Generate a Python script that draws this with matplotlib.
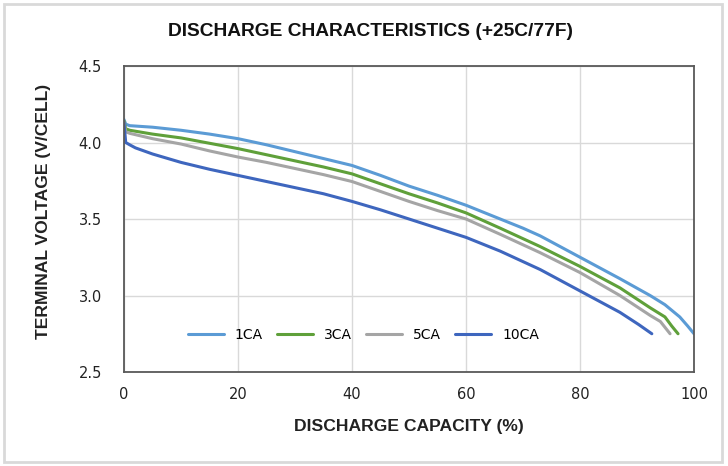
import matplotlib
matplotlib.use('Agg')
import matplotlib.pyplot as plt
from matplotlib.patches import Rectangle

# Discharge curves (capacity %, volts per cell)
cap_1ca = [0, 0.3, 1, 5, 10, 15, 20, 25, 30, 35, 40, 45, 50, 55, 60, 66, 70, 73, 80, 87, 92.3, 94.9, 97.5, 98.9, 100]
volt_1ca = [4.15, 4.12, 4.11, 4.10, 4.08, 4.055, 4.025, 3.985, 3.94, 3.895, 3.85, 3.785, 3.715, 3.655, 3.59, 3.50, 3.44, 3.39, 3.25, 3.11, 3.00, 2.94, 2.86, 2.80, 2.75]

cap_3ca = [0, 0.3, 1, 5, 10, 15, 20, 25, 30, 35, 40, 45, 50, 55, 60, 66, 73, 80, 87, 92.3, 94.9, 96.1, 97.2]
volt_3ca = [4.14, 4.09, 4.08, 4.055, 4.03, 3.995, 3.96, 3.92, 3.88, 3.84, 3.795, 3.73, 3.665, 3.605, 3.54, 3.44, 3.32, 3.19, 3.05, 2.92, 2.86, 2.80, 2.75]

cap_5ca = [0, 0.3, 1, 5, 10, 15, 20, 25, 30, 35, 40, 45, 50, 55, 60, 66, 73, 80, 87, 92.3, 94.1, 95.8]
volt_5ca = [4.13, 4.07, 4.06, 4.025, 3.99, 3.945, 3.905, 3.87, 3.83, 3.79, 3.745, 3.68, 3.615, 3.555, 3.50, 3.40, 3.28, 3.15, 3.00, 2.87, 2.83, 2.75]

cap_10ca = [0, 0.3, 1, 2, 5, 10, 15, 20, 25, 30, 35, 40, 45, 50, 55, 60, 66, 73, 80, 87, 90.3, 92.6]
volt_10ca = [4.13, 4.00, 3.985, 3.965, 3.925, 3.87, 3.825, 3.785, 3.745, 3.705, 3.665, 3.615, 3.56, 3.50, 3.44, 3.38, 3.29, 3.17, 3.03, 2.89, 2.81, 2.75]

series = [
    ('1CA', cap_1ca, volt_1ca, '#5B9BD5'),
    ('3CA', cap_3ca, volt_3ca, '#5FA03A'),
    ('5CA', cap_5ca, volt_5ca, '#A5A5A5'),
    ('10CA', cap_10ca, volt_10ca, '#3E66BE'),
]

bold_font = ['Liberation Sans', 'DejaVu Sans']

fig = plt.figure(figsize=(7.28, 4.66), dpi=100)
ax = fig.add_axes([124 / 728, 1 - 372 / 466, 570 / 728, 306 / 466])

for name, x, y, color in series:
    ax.plot(x, y, color=color, linewidth=2.2, label=name, solid_capstyle='round')

ax.set_xlim(0, 100)
ax.set_ylim(2.5, 4.5)
ax.set_xticks([0, 20, 40, 60, 80, 100])
ax.set_yticks([2.5, 3.0, 3.5, 4.0, 4.5])
ax.set_yticklabels(['2.5', '3.0', '3.5', '4.0', '4.5'])
ax.grid(True, color='#D9D9D9', linewidth=1.0)
ax.set_axisbelow(True)
for sp in ax.spines.values():
    sp.set_color('#595959')
    sp.set_linewidth(1.3)
ax.tick_params(length=0, labelsize=10.5, colors='#222222')
ax.tick_params(axis='y', pad=16)
ax.tick_params(axis='x', pad=11)

ax.set_xlabel('DISCHARGE CAPACITY (%)', fontsize=12.6, fontweight='bold', family=bold_font,
              color='#222222', labelpad=12)
ax.set_ylabel('TERMINAL VOLTAGE (V/CELL)', fontsize=12.6, fontweight='bold', family=bold_font,
              color='#222222')
ax.yaxis.set_label_coords(-0.128, 0.526)
fig.text(371 / 728, 1 - 32 / 466, 'DISCHARGE CHARACTERISTICS (+25C/77F)', ha='center', va='center',
         fontsize=13.8, fontweight='bold', family=bold_font, color='#111111')

ax.legend(loc='center', bbox_to_anchor=(0.42, 0.12), ncol=4, frameon=False, fontsize=10,
          handlelength=2.6, columnspacing=1.0, handletextpad=0.8)

# light border round the whole figure
fig.patches.append(Rectangle((4 / 728, 4 / 466), 718 / 728, 458 / 466, transform=fig.transFigure,
                             fill=False, edgecolor='#D9D9D9', linewidth=2))

fig.savefig('out.png', dpi=100)
